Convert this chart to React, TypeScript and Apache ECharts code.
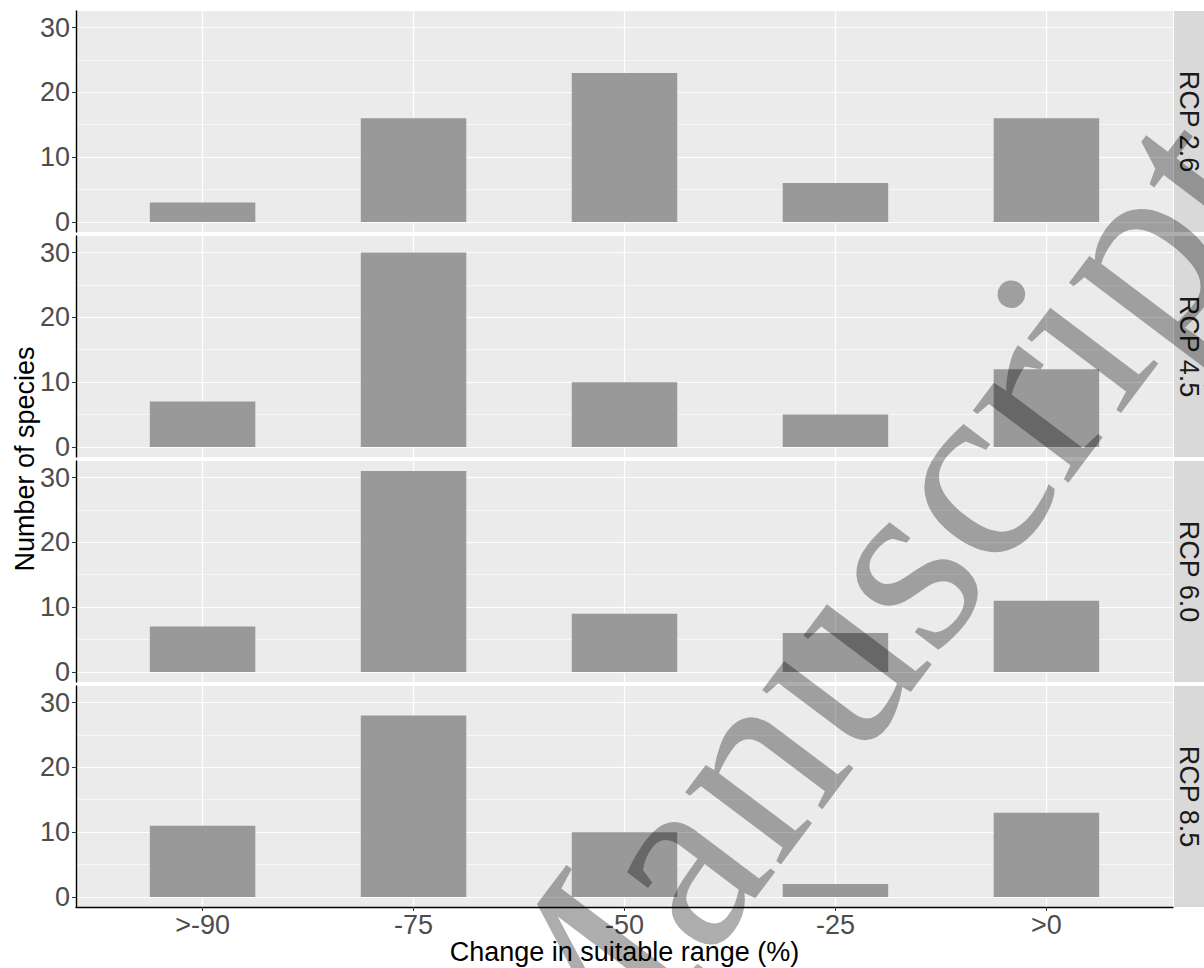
import React, { useEffect, useRef } from "react";
import * as echarts from "echarts";

// ---------- data ----------
const categories = [">-90", "-75", "-50", "-25", ">0"];
const categoryPositions = [1, 2, 3, 4, 5];
const panelNames = ["RCP 2.6", "RCP 4.5", "RCP 6.0", "RCP 8.5"];
const rcp26 = [3, 16, 23, 6, 16];
const rcp45 = [7, 30, 10, 5, 12];
const rcp60 = [7, 31, 9, 6, 11];
const rcp85 = [11, 28, 10, 2, 13];
const panelValues = [rcp26, rcp45, rcp60, rcp85];
const yMajorTicks = [0, 10, 20, 30];
const yMinorTicks = [5, 15, 25];
const xAxisTitle = "Change in suitable range (%)";
const yAxisTitle = "Number of species";
const watermarkText = "Manuscript";

// ---------- layout ----------
const W = 1204;
const H = 968;
const PANEL_LEFT = 76;
const PANEL_RIGHT = 1173;
const PANEL_TOP = 11;
const PANEL_H = 221;
const PANEL_GAP = 4;
const X_MIN = 0.4;
const X_MAX = 5.6;
const Y_MIN = -1.55;
const Y_MAX = 32.55;
const PANEL_W = PANEL_RIGHT - PANEL_LEFT;
const BAR_W = (PANEL_W * 0.5) / (X_MAX - X_MIN);
const FONT = "'Liberation Sans', Arial, sans-serif";

const panelTop = (i: number) => PANEL_TOP + i * (PANEL_H + PANEL_GAP);

export default function App() {
  const ref = useRef<HTMLDivElement>(null);

  useEffect(() => {
    if (!ref.current) return;
    const chart = echarts.init(ref.current, undefined, { renderer: "svg" });
    const n = panelNames.length;
    const last = n - 1;

    const grids = panelNames.map((_, i) => ({
      left: PANEL_LEFT,
      top: panelTop(i),
      width: PANEL_W,
      height: PANEL_H,
      show: true,
      backgroundColor: "#EBEBEB",
      borderWidth: 0,
    }));

    const xAxes = panelNames.map((_, i) => ({
      type: "value",
      gridIndex: i,
      min: X_MIN,
      max: X_MAX,
      axisLine: { show: i === last, onZero: false, lineStyle: { color: "#000", width: 1.4 } },
      axisTick: {
        show: i === last,
        customValues: categoryPositions,
        length: 4,
        lineStyle: { color: "#333", width: 1 },
      },
      axisLabel: {
        show: i === last,
        customValues: categoryPositions,
        formatter: (v: number) => categories[Math.round(v) - 1] ?? "",
        fontSize: 27,
        fontFamily: FONT,
        color: "#4D4D4D",
        margin: 4,
      },
      splitLine: { show: true, lineStyle: { color: "#FFFFFF", width: 1.2 } },
    }));

    const yAxes: any[] = [];
    panelNames.forEach((_, i) => {
      yAxes.push({
        type: "value",
        gridIndex: i,
        position: "left",
        min: Y_MIN,
        max: Y_MAX,
        axisLine: { show: true, onZero: false, lineStyle: { color: "#000", width: 1.4 } },
        axisTick: {
          show: true,
          customValues: yMajorTicks,
          length: 4,
          lineStyle: { color: "#333", width: 1 },
        },
        axisLabel: {
          show: true,
          customValues: yMajorTicks,
          fontSize: 27,
          fontFamily: FONT,
          color: "#4D4D4D",
          margin: 6,
        },
        splitLine: { show: true, lineStyle: { color: "#FFFFFF", width: 1.2 } },
      });
      yAxes.push({
        type: "value",
        gridIndex: i,
        position: "right",
        min: Y_MIN,
        max: Y_MAX,
        axisLine: { show: false },
        axisTick: { show: false, customValues: yMinorTicks },
        axisLabel: { show: false, customValues: yMinorTicks },
        splitLine: { show: true, lineStyle: { color: "#FFFFFF", width: 0.6 } },
      });
    });

    const series = panelValues.map((vals, i) => ({
      type: "bar",
      name: panelNames[i],
      xAxisIndex: i,
      yAxisIndex: i * 2,
      barWidth: BAR_W,
      silent: true,
      itemStyle: { color: "#999999" },
      data: vals.map((v, j) => [categoryPositions[j], v]),
    }));

    const graphics: any[] = [];
    panelNames.forEach((name, i) => {
      graphics.push({
        type: "rect",
        shape: { x: PANEL_RIGHT + 1, y: panelTop(i), width: 40, height: PANEL_H },
        style: { fill: "#D9D9D9" },
        silent: true,
      });
      graphics.push({
        type: "text",
        x: 1189,
        y: panelTop(i) + PANEL_H / 2,
        rotation: -Math.PI / 2,
        style: {
          text: name,
          fontSize: 27,
          fontFamily: FONT,
          fill: "#1A1A1A",
          align: "center",
          verticalAlign: "middle",
        },
        silent: true,
      });
    });
    graphics.push({
      type: "text",
      x: (PANEL_LEFT + PANEL_RIGHT) / 2,
      y: 952,
      style: {
        text: xAxisTitle,
        fontSize: 27,
        fontFamily: FONT,
        fill: "#000",
        align: "center",
        verticalAlign: "middle",
      },
      silent: true,
    });
    graphics.push({
      type: "text",
      x: 25,
      y: (PANEL_TOP + panelTop(last) + PANEL_H) / 2,
      rotation: Math.PI / 2,
      style: {
        text: yAxisTitle,
        fontSize: 27,
        fontFamily: FONT,
        fill: "#000",
        align: "center",
        verticalAlign: "middle",
      },
      silent: true,
    });
    graphics.push({
      type: "text",
      x: 855,
      y: 619,
      z: 100,
      rotation: (53 * Math.PI) / 180,
      style: {
        text: watermarkText,
        fontSize: 261,
        fontFamily: "'Liberation Serif', 'Times New Roman', serif",
        fill: "rgba(0,0,0,0.32)",
        align: "center",
        verticalAlign: "middle",
      },
      silent: true,
    });

    chart.setOption({
      animation: false,
      backgroundColor: "#FFFFFF",
      grid: grids,
      xAxis: xAxes,
      yAxis: yAxes,
      series,
      graphic: graphics,
    });

    return () => chart.dispose();
  }, []);

  return (
    <div
      ref={ref}
      style={{ position: "fixed", left: 0, top: 0, width: W, height: H }}
    />
  );
}
